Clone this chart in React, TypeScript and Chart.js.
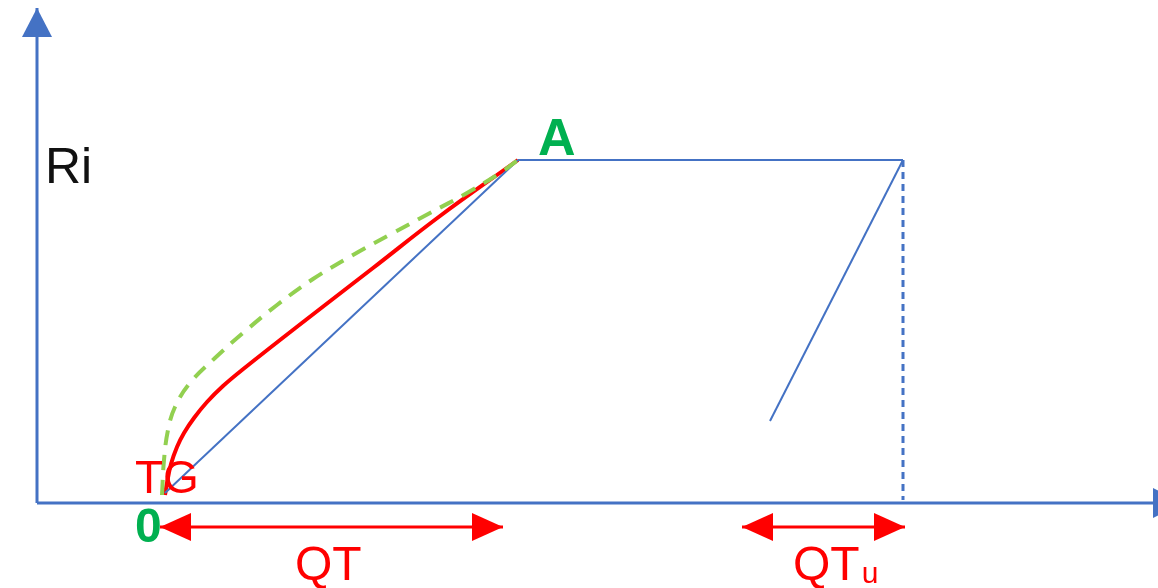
import React, { useEffect, useRef } from "react";
import { Chart, registerables } from "chart.js";

Chart.register(...registerables);

type P = { x: number; y: number };

// Diagram units: origin where the Q axis meets the Ri axis
const qAxis: P[] = [{ x: 0, y: 0 }, { x: 1145, y: 0 }];
const riAxis: P[] = [{ x: 0, y: 0 }, { x: 0, y: 495 }];

const elasticLine: P[] = [{ x: 128, y: 10 }, { x: 481, y: 343 }];
const plateau: P[] = [{ x: 481, y: 343 }, { x: 866, y: 343 }];
const unloading: P[] = [{ x: 866, y: 343 }, { x: 733, y: 82 }];
const ultimateDrop: P[] = [{ x: 866, y: 343 }, { x: 866, y: 3 }];

const measuredCurve: P[] = [
  { x: 128, y: 8 }, { x: 130, y: 20 }, { x: 134, y: 39 }, { x: 140, y: 56 },
  { x: 147, y: 70 }, { x: 157, y: 85 }, { x: 170, y: 101 }, { x: 186, y: 117 },
  { x: 205, y: 133 }, { x: 270, y: 184 }, { x: 336, y: 235 }, { x: 403, y: 287 },
  { x: 481, y: 343 },
];

const upperCurve: P[] = [
  { x: 125, y: 8 }, { x: 127, y: 43 }, { x: 131, y: 73 }, { x: 138, y: 96 },
  { x: 153, y: 120 }, { x: 178, y: 145 }, { x: 206, y: 170 }, { x: 240, y: 198 },
  { x: 276, y: 224 }, { x: 316, y: 248 }, { x: 356, y: 270 }, { x: 393, y: 290 },
  { x: 430, y: 310 }, { x: 463, y: 330 }, { x: 481, y: 343 },
];

// Double-headed dimension arrows below the Q axis
const qtSpan: number[] = [123, 466];
const qtuSpan: number[] = [705, 868];
const spanLevel = -24;

const labelTexts: string[] = ["Ri", "A", "TG", "0", "QT", "QT", "u"];

const BLUE = "#4472C4";
const RED = "#FF0000";
const LIGHT_GREEN = "#92D050";
const GREEN = "#00B050";
const FONT = "'Liberation Sans', Arial, sans-serif";

const line = (data: P[], color: string, width: number, extra: any = {}) => ({
  data,
  borderColor: color,
  backgroundColor: color,
  borderWidth: width,
  showLine: true,
  pointRadius: 0,
  pointHoverRadius: 0,
  fill: false,
  ...extra,
});

const arrowHeads = {
  id: "arrowHeads",
  afterDatasetsDraw(chart: any) {
    const { ctx, scales } = chart;
    const px = (v: number) => scales.x.getPixelForValue(v);
    const py = (v: number) => scales.y.getPixelForValue(v);
    const head = (fx: number, fy: number, tx: number, ty: number, len: number, half: number, color: string) => {
      const a = Math.atan2(ty - fy, tx - fx);
      const bx = tx - Math.cos(a) * len;
      const by = ty - Math.sin(a) * len;
      const nx = -Math.sin(a) * half;
      const ny = Math.cos(a) * half;
      ctx.save();
      ctx.fillStyle = color;
      ctx.beginPath();
      ctx.moveTo(tx, ty);
      ctx.lineTo(bx + nx, by + ny);
      ctx.lineTo(bx - nx, by - ny);
      ctx.closePath();
      ctx.fill();
      ctx.restore();
    };
    // axis arrows
    head(px(riAxis[0].x), py(riAxis[0].y), px(riAxis[1].x), py(riAxis[1].y), 29, 15, BLUE);
    head(px(qAxis[0].x), py(qAxis[0].y), px(qAxis[1].x), py(qAxis[1].y), 29, 15, BLUE);
    // dimension arrows
    for (const [s, e] of [qtSpan, qtuSpan]) {
      const y = py(spanLevel);
      head(px(e), y, px(s), y, 31, 14, RED);
      head(px(s), y, px(e), y, 31, 14, RED);
    }

    // labels
    ctx.save();
    ctx.textBaseline = "alphabetic";
    ctx.textAlign = "left";
    const put = (t: string, x: number, y: number, color: string, font: string) => {
      ctx.fillStyle = color;
      ctx.font = font;
      ctx.fillText(t, x, y);
      return ctx.measureText(t).width;
    };
    put(labelTexts[0], px(8), py(320), "#111", `50px ${FONT}`);
    put(labelTexts[1], px(501), py(348), GREEN, `bold 52px ${FONT}`);
    put(labelTexts[2], px(98), py(10), RED, `46px ${FONT}`);
    put(labelTexts[3], px(98), py(-39), GREEN, `bold 48px ${FONT}`);
    put(labelTexts[4], px(258), py(-77), RED, `48px ${FONT}`);
    const w = put(labelTexts[5], px(756), py(-77), RED, `48px ${FONT}`);
    put(labelTexts[6], px(756) + w + 2, py(-80), RED, `30px ${FONT}`);
    ctx.restore();
  },
};

export default function App() {
  const ref = useRef<HTMLCanvasElement | null>(null);

  useEffect(() => {
    if (!ref.current) return;
    const chart = new Chart(ref.current, {
      type: "scatter",
      data: {
        datasets: [
          line(upperCurve, LIGHT_GREEN, 4, { borderDash: [15, 10], tension: 0.4 }),
          line(elasticLine, BLUE, 2),
          line(plateau, BLUE, 2),
          line(unloading, BLUE, 2),
          line(ultimateDrop, BLUE, 3, { borderDash: [7, 5] }),
          line(measuredCurve, RED, 4, { tension: 0.4 }),
          line(qAxis, BLUE, 3),
          line(riAxis, BLUE, 3),
          line([{ x: qtSpan[0], y: spanLevel }, { x: qtSpan[1], y: spanLevel }], RED, 3),
          line([{ x: qtuSpan[0], y: spanLevel }, { x: qtuSpan[1], y: spanLevel }], RED, 3),
        ],
      },
      options: {
        animation: false,
        responsive: false,
        devicePixelRatio: 1,
        layout: { padding: 0 },
        plugins: { legend: { display: false }, tooltip: { enabled: false }, title: { display: false } },
        events: [],
        scales: {
          x: { type: "linear", min: -37, max: 1121, display: false },
          y: { type: "linear", min: -85, max: 503, display: false },
        },
      },
      plugins: [arrowHeads],
    });
    return () => chart.destroy();
  }, []);

  return (
    <div style={{ position: "absolute", left: 0, top: 0, width: 1158, height: 588, background: "#fff" }}>
      <canvas ref={ref} width={1158} height={588} />
    </div>
  );
}
